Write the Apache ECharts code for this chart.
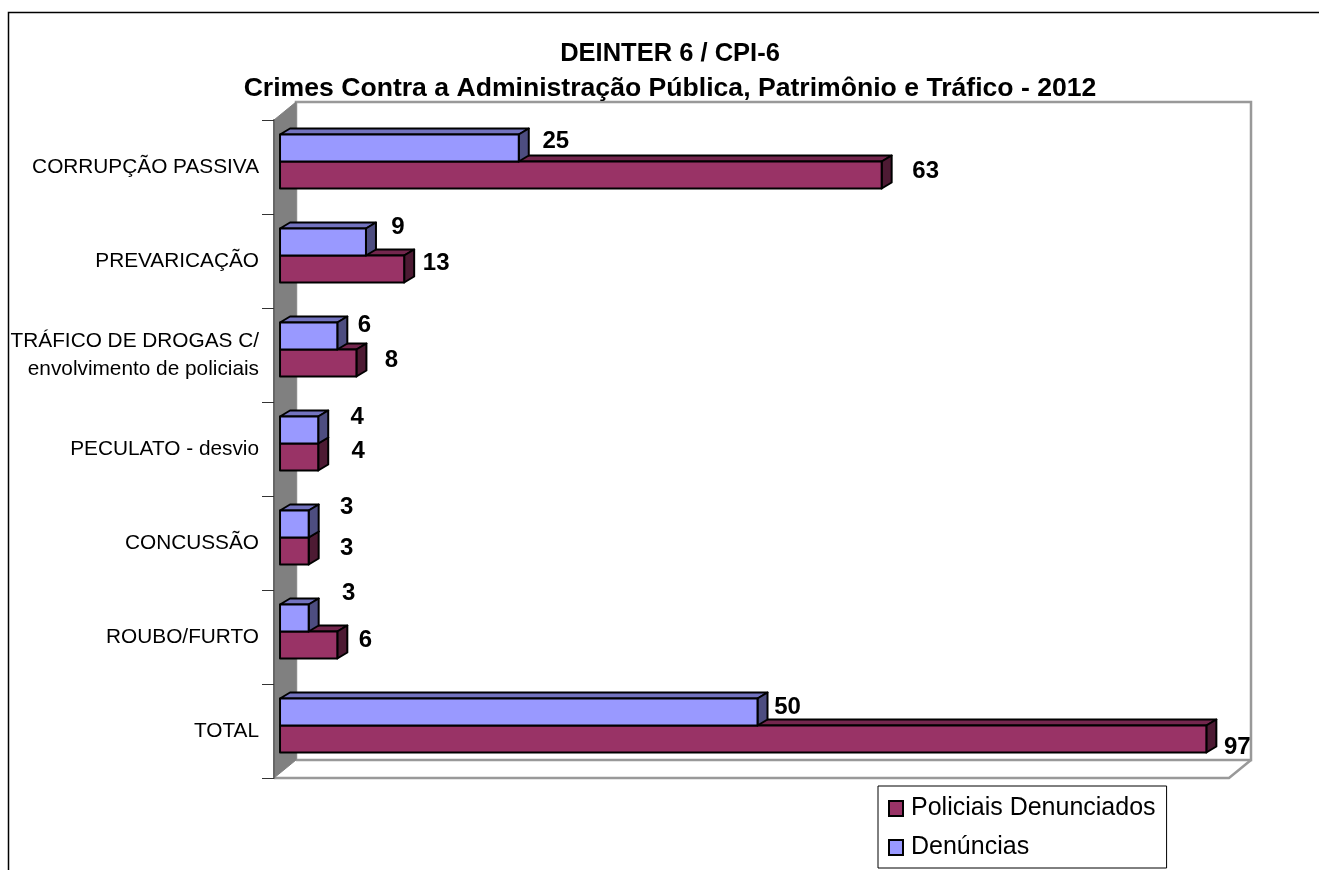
<!DOCTYPE html>
<html><head><meta charset="utf-8">
<style>html,body{margin:0;padding:0;background:#fff;overflow:hidden}#c{width:1319px;height:870px}</style>
<script src="https://cdn.jsdelivr.net/npm/echarts@6/dist/echarts.min.js"></script>
</head><body><div id="c"></div>
<script>
const categories = ['CORRUPÇÃO PASSIVA','PREVARICAÇÃO','TRÁFICO DE DROGAS C/\nenvolvimento de policiais','PECULATO - desvio','CONCUSSÃO','ROUBO/FURTO','TOTAL'];
const policiais = [63,13,8,4,3,6,97];
const denuncias = [25,9,6,4,3,3,50];
// hand-moved label nudges of the original, relative to the bar end and bar middle
const policiaisNudge = [[44,-3.5],[32,-5.6],[35,-2.7],[40,-5.8],[38,-2.9],[28,-5],[31,8.5]];
const denunciasNudge = [[37,-6.5],[32,-14.6],[27,-10.7],[39,-12.8],[38,-16.9],[40,-25],[30,-4.5]];

const DX = 10, DY = 6, BAR_H = 27, SHIFT = 5.5;
const FONT = '"Liberation Sans", Arial, sans-serif';

function bar3d(front, top, side, offsetSign, nudges) {
  return function (params, api) {
    const v = api.value(0), i = api.value(1);
    const end = api.coord([v, i]);
    const start = api.coord([0, i]);
    const yTop = end[1] - SHIFT + (offsetSign > 0 ? 0 : -BAR_H);
    const yBot = yTop + BAR_H;
    const x0 = start[0], x1 = end[0];
    const line = { stroke: '#000', lineWidth: 2, lineJoin: 'round' };
    const n = nudges[params.dataIndex];
    return { type: 'group', children: [
      { type: 'polygon', shape: { points: [[x0,yTop],[x0+DX,yTop-DY],[x1+DX,yTop-DY],[x1,yTop]] }, style: Object.assign({ fill: top }, line) },
      { type: 'polygon', shape: { points: [[x1,yTop],[x1+DX,yTop-DY],[x1+DX,yBot-DY],[x1,yBot]] }, style: Object.assign({ fill: side }, line) },
      { type: 'rect', shape: { x: x0, y: yTop, width: x1-x0, height: BAR_H }, style: Object.assign({ fill: front }, line) },
      { type: 'text', z2: 10, style: { text: String(v), x: x1+n[0], y: (yTop+yBot)/2+n[1], align: 'center', verticalAlign: 'middle', font: 'bold 24px ' + FONT, fill: '#000' } }
    ]};
  };
}

const wallStyle = { stroke: '#999', lineWidth: 2.5 };
const chart = echarts.init(document.getElementById('c'), null, { renderer: 'canvas' });
chart.setOption({
  animation: false,
  backgroundColor: '#fff',
  title: {
    text: 'DEINTER 6 / CPI-6',
    subtext: 'Crimes Contra a Administração Pública, Patrimônio e Tráfico - 2012',
    left: 670, textAlign: 'center', top: 41, itemGap: 8, padding: 0,
    textStyle: { fontFamily: FONT, fontSize: 25.5, fontWeight: 'bold', color: '#000' },
    subtextStyle: { fontFamily: FONT, fontSize: 26.6, fontWeight: 'bold', color: '#000' }
  },
  legend: {
    orient: 'vertical', left: 878, top: 786,
    backgroundColor: '#fff', borderColor: '#000', borderWidth: 1,
    padding: [10, 11, 8, 10], itemGap: 14, itemWidth: 14, itemHeight: 15, icon: 'rect',
    textStyle: { fontFamily: FONT, fontSize: 25, color: '#000', padding: [0, 0, 0, 3] },
    data: ['Policiais Denunciados', 'Denúncias']
  },
  grid: { left: 274, top: 120, width: 961, height: 658, containLabel: false },
  xAxis: { type: 'value', min: -0.63, max: 100, show: false },
  yAxis: {
    type: 'category', inverse: true, data: categories,
    axisLine: { show: true, onZero: false, lineStyle: { color: '#666', width: 2 } },
    axisTick: { show: true, length: 12, alignWithLabel: false, lineStyle: { color: '#333', width: 1 } },
    axisLabel: { margin: 15, fontFamily: FONT, fontSize: 20.8, color: '#000', lineHeight: 28, align: 'right' }
  },
  graphic: { elements: [
    { type: 'polyline', silent: true, z: -5, shape: { points: [[8.5,870],[8.5,12.5],[1319,12.5]] }, style: { fill: null, stroke: '#000', lineWidth: 1.5 } },
    { type: 'polygon', silent: true, z: -4, shape: { points: [[296,102],[1251,102],[1251,760],[1229,778],[274,778],[274,120]] }, style: { fill: '#fff', stroke: 'none' } },
    { type: 'polyline', silent: true, z: -3, shape: { points: [[296,760],[296,102],[1251,102],[1251,760],[296,760]] }, style: Object.assign({ fill: null }, wallStyle) },
    { type: 'polyline', silent: true, z: -3, shape: { points: [[1251,760],[1229,778],[274,778]] }, style: Object.assign({ fill: null }, wallStyle) },
    { type: 'polygon', silent: true, z: -2, shape: { points: [[274,120],[296,102],[296,760],[274,778]] }, style: { fill: '#808080', stroke: '#808080', lineWidth: 1 } }
  ]},
  series: [
    { name: 'Policiais Denunciados', type: 'custom', coordinateSystem: 'cartesian2d', clip: false,
      encode: { x: 0, y: 1 }, itemStyle: { color: '#993366', borderColor: '#000', borderWidth: 1.5 },
      renderItem: bar3d('#993366', '#73264D', '#4D1A33', 1, policiaisNudge),
      data: policiais.map((v, i) => [v, i]) },
    { name: 'Denúncias', type: 'custom', coordinateSystem: 'cartesian2d', clip: false,
      encode: { x: 0, y: 1 }, itemStyle: { color: '#9999FF', borderColor: '#000', borderWidth: 1.5 },
      renderItem: bar3d('#9999FF', '#7373BF', '#4D4D80', -1, denunciasNudge),
      data: denuncias.map((v, i) => [v, i]) }
  ]
});
</script></body></html>
